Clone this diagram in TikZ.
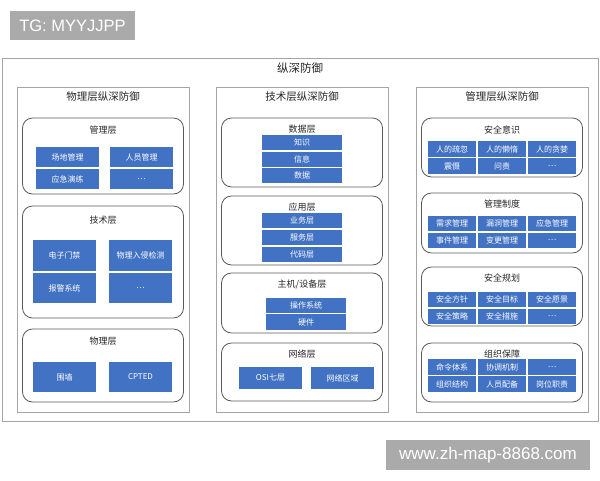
\documentclass[tikz,border=0pt]{standalone}
\usepackage{fontspec}
\setmainfont{Liberation Sans}
\newfontfamily\cjk{Noto Sans CJK SC}
\usetikzlibrary{positioning}
\definecolor{cellblue}{RGB}{66,114,196}
\definecolor{framegray}{RGB}{165,165,165}
\definecolor{boxgray}{RGB}{90,90,90}
\definecolor{markgray}{RGB}{170,170,170}
\tikzset{
  outerbox/.style={draw=framegray, line width=0.9pt, inner sep=0pt},
  colbox/.style={draw=framegray, line width=0.8pt, minimum width=172pt, minimum height=325pt, inner sep=0pt},
  grpbox/.style={draw=boxgray, line width=0.8pt, rounded corners=10pt, minimum width=161pt, inner sep=0pt},
  maintitle/.style={font=\cjk\fontsize{11.5}{13}\selectfont, text=black!85, inner sep=0pt},
  coltitle/.style={font=\cjk\fontsize{10.5}{12}\selectfont, text=black!85, inner sep=0pt},
  grptitle/.style={font=\cjk\fontsize{9}{11}\selectfont, text=black!85, inner sep=0pt},
  cell/.style={fill=cellblue, text=white, font=\cjk\fontsize{8}{9}\selectfont, inner sep=0pt, outer sep=0pt},
  wmark/.style={fill=markgray, text=white, inner sep=0pt}
}
\begin{document}
\begin{tikzpicture}[x=1pt, y=-1pt]
	\useasboundingbox (0,0) rectangle (600,480);
	
	\node [wmark, minimum width=125pt, minimum height=29pt, font=\fontsize{16.5}{18}\selectfont] (tg) at (72.5,25.5) {TG: MYYJJPP};
	\node [outerbox, minimum width=596pt, minimum height=363pt] (all) at (300,239.5) {};
	\node [maintitle] (allT) at ([yshift=-11pt]all.north) {纵深防御};
	\node [colbox] (colL) at (103,249.5) {}; \node [coltitle] (colLT) at ([yshift=-10pt]colL.north) {物理层纵深防御};
	\node [colbox] (colM) at (302,249.5) {}; \node [coltitle] (colMT) at ([yshift=-10pt]colM.north) {技术层纵深防御};
	\node [colbox] (colR) at (502,249.5) {}; \node [coltitle] (colRT) at ([yshift=-10pt]colR.north) {管理层纵深防御};
	
	% physical column
	\node [grpbox, minimum height=76pt] (L1) at (103,156) {}; \node [grptitle] (L1T) at ([yshift=-12pt]L1.north) {管理层};
	\node [cell, minimum width=63pt, minimum height=20pt] (L11) at (67.5,157) {场地管理}; \node [cell, minimum width=63pt, minimum height=20pt, right=11pt of L11] (L12) {人员管理};
	\node [cell, minimum width=63pt, minimum height=20pt, below=2pt of L11] (L13) {应急演练}; \node [cell, minimum width=63pt, minimum height=20pt, right=11pt of L13] (L14) {…};
	\node [grpbox, minimum height=112pt] (L2) at (103,262) {}; \node [grptitle] (L2T) at ([yshift=-15pt]L2.north) {技术层};
	\node [cell, minimum width=63pt, minimum height=31pt] (L21) at (64.5,255.5) {电子门禁}; \node [cell, minimum width=63pt, minimum height=31pt, right=13pt of L21] (L22) {物理入侵检测};
	\node [cell, minimum width=63pt, minimum height=30pt, below=2pt of L21] (L23) {报警系统}; \node [cell, minimum width=63pt, minimum height=30pt, right=13pt of L23] (L24) {…};
	\node [grpbox, minimum height=73pt] (L3) at (103,365.5) {}; \node [grptitle] (L3T) at ([yshift=-13pt]L3.north) {物理层};
	\node [cell, minimum width=63pt, minimum height=30pt] (L31) at (64.5,377) {围墙}; \node [cell, minimum width=63pt, minimum height=30pt, right=13pt of L31] (L32) {CPTED};
	
	% technical column
	\node [grpbox, minimum height=69pt] (M1) at (302,152.5) {}; \node [grptitle] (M1T) at ([yshift=-12pt]M1.north) {数据层};
	\node [cell, minimum width=80pt, minimum height=15pt] (M11) at (302,142.5) {知识};
	\node [cell, minimum width=80pt, minimum height=15pt, below=1.5pt of M11] (M12) {信息};
	\node [cell, minimum width=80pt, minimum height=15pt, below=1.5pt of M12] (M13) {数据};
	\node [grpbox, minimum height=69pt] (M2) at (302,230.5) {}; \node [grptitle] (M2T) at ([yshift=-11pt]M2.north) {应用层};
	\node [cell, minimum width=80pt, minimum height=15pt] (M21) at (302,220.5) {业务层};
	\node [cell, minimum width=80pt, minimum height=15pt, below=2pt of M21] (M22) {服务层};
	\node [cell, minimum width=80pt, minimum height=15pt, below=2pt of M22] (M23) {代码层};
	\node [grpbox, minimum height=60pt] (M3) at (302,303) {}; \node [grptitle] (M3T) at ([yshift=-12pt]M3.north) {主机/设备层};
	\node [cell, minimum width=80pt, minimum height=15.5pt] (M31) at (306,305.5) {操作系统};
	\node [cell, minimum width=80pt, minimum height=15.5pt, below=1pt of M31] (M32) {硬件};
	\node [grpbox, minimum height=58pt] (M4) at (302,372) {}; \node [grptitle] (M4T) at ([yshift=-11pt]M4.north) {网络层};
	\node [cell, minimum width=63pt, minimum height=22pt] (M41) at (270.5,378) {OSI七层}; \node [cell, minimum width=63pt, minimum height=22pt, right=9pt of M41] (M42) {网络区域};
	
	% management column
	\node [grpbox, minimum height=59pt] (R1) at (502,147.5) {}; \node [grptitle] (R1T) at ([yshift=-12pt]R1.north) {安全意识};
	\node [cell, minimum width=48pt, minimum height=15.5pt] (R11) at (452,149) {人的疏忽}; \node [cell, minimum width=48pt, minimum height=15.5pt, right=2pt of R11] (R12) {人的懒惰}; \node [cell, minimum width=48pt, minimum height=15.5pt, right=2pt of R12] (R13) {人的贪婪};
	\node [cell, minimum width=48pt, minimum height=15.5pt, below=1.5pt of R11] (R14) {震慑}; \node [cell, minimum width=48pt, minimum height=15.5pt, right=2pt of R14] (R15) {问责}; \node [cell, minimum width=48pt, minimum height=15.5pt, right=2pt of R15] (R16) {…};
	\node [grpbox, minimum height=60pt] (R2) at (502,223) {}; \node [grptitle] (R2T) at ([yshift=-11pt]R2.north) {管理制度};
	\node [cell, minimum width=48pt, minimum height=15.5pt] (R21) at (452,223.5) {需求管理}; \node [cell, minimum width=48pt, minimum height=15.5pt, right=2pt of R21] (R22) {漏洞管理}; \node [cell, minimum width=48pt, minimum height=15.5pt, right=2pt of R22] (R23) {应急管理};
	\node [cell, minimum width=48pt, minimum height=15.5pt, below=1.5pt of R21] (R24) {事件管理}; \node [cell, minimum width=48pt, minimum height=15.5pt, right=2pt of R24] (R25) {变更管理}; \node [cell, minimum width=48pt, minimum height=15.5pt, right=2pt of R25] (R26) {…};
	\node [grpbox, minimum height=59pt] (R3) at (502,296.5) {}; \node [grptitle] (R3T) at ([yshift=-11pt]R3.north) {安全规划};
	\node [cell, minimum width=48pt, minimum height=15.5pt] (R31) at (452,299.5) {安全方针}; \node [cell, minimum width=48pt, minimum height=15.5pt, right=2pt of R31] (R32) {安全目标}; \node [cell, minimum width=48pt, minimum height=15.5pt, right=2pt of R32] (R33) {安全愿景};
	\node [cell, minimum width=48pt, minimum height=15.5pt, below=1.5pt of R31] (R34) {安全策略}; \node [cell, minimum width=48pt, minimum height=15.5pt, right=2pt of R34] (R35) {安全措施}; \node [cell, minimum width=48pt, minimum height=15.5pt, right=2pt of R35] (R36) {…};
	\node [grpbox, minimum height=59pt] (R4) at (502,372.5) {}; \node [grptitle] (R4T) at ([yshift=-11pt]R4.north) {组织保障};
	\node [cell, minimum width=48pt, minimum height=15.5pt] (R41) at (452,367) {命令体系}; \node [cell, minimum width=48pt, minimum height=15.5pt, right=2pt of R41] (R42) {协调机制}; \node [cell, minimum width=48pt, minimum height=15.5pt, right=2pt of R42] (R43) {…};
	\node [cell, minimum width=48pt, minimum height=15.5pt, below=1.5pt of R41] (R44) {组织结构}; \node [cell, minimum width=48pt, minimum height=15.5pt, right=2pt of R44] (R45) {人员配备}; \node [cell, minimum width=48pt, minimum height=15.5pt, right=2pt of R45] (R46) {岗位职责};
	
	\node [wmark, minimum width=204pt, minimum height=30pt, font=\fontsize{17}{19}\selectfont] (url) at (488,455) {www.zh-map-8868.com};
\end{tikzpicture}
\end{document}
